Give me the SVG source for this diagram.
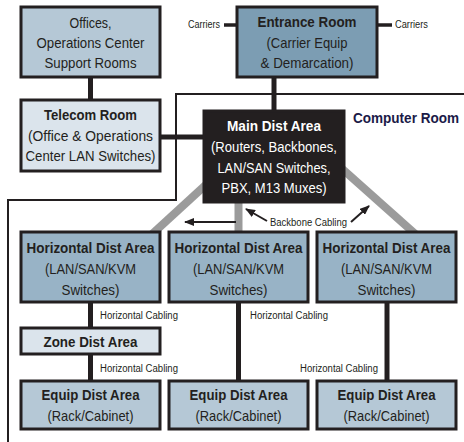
<svg xmlns="http://www.w3.org/2000/svg" width="464" height="442" viewBox="0 0 464 442">
<defs>
<marker id="ah" markerUnits="userSpaceOnUse" markerWidth="10" markerHeight="8" refX="9" refY="4" orient="auto">
<path d="M0,0 L10,4 L0,8 Z" fill="#231f20"/>
</marker>
</defs>
<style>
.box{stroke:#231f20;stroke-width:3}
.lt{fill:#dbe4ec}
.md{fill:#b5c8d6}
.hd{fill:#98b3c6}
.dk{fill:#7c9db3}
.bk{fill:#231f20}
text{font-family:"Liberation Sans",Arial,sans-serif;fill:#231f20}
.t{font-size:15px;text-anchor:middle}
.b{font-weight:bold}
.w{fill:#ffffff}
.s{font-size:10px}
.cr{font-size:14px;font-weight:bold;fill:#1b1a47}
.wire{stroke:#231f20;stroke-width:5;fill:none}
.thin{stroke:#231f20;stroke-width:3.5;fill:none}
.bound{stroke:#231f20;stroke-width:2;fill:none}
.bb{stroke:#9b9b9b;stroke-width:8;fill:none}
.arr{stroke:#231f20;stroke-width:2;fill:none;marker-end:url(#ah)}
</style>

<g id="connectors">
<path class="bound" d="M464,94 H176 V200 H8 V442"/>
<path class="bb" d="M222,170 L150,236"/>
<path class="bb" d="M238.5,195 V240"/>
<path class="bb" d="M330,158 L422,240"/>
<path class="wire" d="M90.5,77 V100"/>
<path class="wire" d="M160,137 H204"/>
<path class="wire" d="M274,77 V111"/>
<path class="thin" d="M224,25 H237"/>
<path class="thin" d="M377,25 H392"/>
<path class="wire" d="M90.5,302 V328"/>
<path class="wire" d="M90.5,354 V381"/>
<path class="wire" d="M238.5,302 V381"/>
<path class="wire" d="M387,302 V381"/>
<path class="arr" d="M236,222 H185"/>
<path class="arr" d="M267,221 L246,209"/>
<path class="arr" d="M351,222 L369,206"/>
<text class="s" x="188" y="28" textLength="32" lengthAdjust="spacingAndGlyphs">Carriers</text>
<text class="s" x="395" y="28" textLength="33" lengthAdjust="spacingAndGlyphs">Carriers</text>
<text class="s" x="270" y="226" textLength="77" lengthAdjust="spacingAndGlyphs">Backbone Cabling</text>
<text class="s" x="100" y="319" textLength="78" lengthAdjust="spacingAndGlyphs">Horizontal Cabling</text>
<text class="s" x="100" y="372" textLength="78" lengthAdjust="spacingAndGlyphs">Horizontal Cabling</text>
<text class="s" x="250" y="319" textLength="78" lengthAdjust="spacingAndGlyphs">Horizontal Cabling</text>
<text class="s" x="300" y="372" textLength="78" lengthAdjust="spacingAndGlyphs">Horizontal Cabling</text>
<text class="cr" x="353" y="123" textLength="106" lengthAdjust="spacingAndGlyphs">Computer Room</text>
</g>

<g id="offices">
<rect class="box md" x="21" y="7" width="139" height="70"/>
<text class="t" x="90.5" y="28" textLength="42" lengthAdjust="spacingAndGlyphs">Offices,</text>
<text class="t" x="90.5" y="48" textLength="108" lengthAdjust="spacingAndGlyphs">Operations Center</text>
<text class="t" x="90.5" y="68" textLength="92" lengthAdjust="spacingAndGlyphs">Support Rooms</text>
</g>

<g id="telecom">
<rect class="box lt" x="21" y="100" width="139" height="71"/>
<text class="t b" x="90.5" y="120" textLength="93" lengthAdjust="spacingAndGlyphs">Telecom Room</text>
<text class="t" x="90.5" y="141" textLength="125" lengthAdjust="spacingAndGlyphs">(Office &amp; Operations</text>
<text class="t" x="90.5" y="161" textLength="130" lengthAdjust="spacingAndGlyphs">Center LAN Switches)</text>
</g>

<g id="entrance">
<rect class="box dk" x="237" y="7" width="140" height="70"/>
<text class="t b" x="307" y="27" textLength="99" lengthAdjust="spacingAndGlyphs">Entrance Room</text>
<text class="t" x="307" y="48" textLength="81" lengthAdjust="spacingAndGlyphs">(Carrier Equip</text>
<text class="t" x="307" y="68" textLength="93" lengthAdjust="spacingAndGlyphs">&amp; Demarcation)</text>
</g>

<g id="main">
<rect class="box bk" x="204" y="111" width="140" height="91"/>
<text class="t b w" x="274" y="131" textLength="94" lengthAdjust="spacingAndGlyphs">Main Dist Area</text>
<text class="t w" x="274" y="152" textLength="126" lengthAdjust="spacingAndGlyphs">(Routers, Backbones,</text>
<text class="t w" x="274" y="173" textLength="113" lengthAdjust="spacingAndGlyphs">LAN/SAN Switches,</text>
<text class="t w" x="274" y="193" textLength="105" lengthAdjust="spacingAndGlyphs">PBX, M13 Muxes)</text>
</g>

<g id="hda1">
<rect class="box hd" x="21" y="232" width="139" height="70"/>
<text class="t b" x="90.5" y="253" textLength="128" lengthAdjust="spacingAndGlyphs">Horizontal Dist Area</text>
<text class="t" x="90.5" y="274" textLength="91" lengthAdjust="spacingAndGlyphs">(LAN/SAN/KVM</text>
<text class="t" x="90.5" y="295" textLength="58" lengthAdjust="spacingAndGlyphs">Switches)</text>
</g>

<g id="hda2">
<rect class="box hd" x="169" y="232" width="139" height="70"/>
<text class="t b" x="238.5" y="253" textLength="128" lengthAdjust="spacingAndGlyphs">Horizontal Dist Area</text>
<text class="t" x="238.5" y="274" textLength="91" lengthAdjust="spacingAndGlyphs">(LAN/SAN/KVM</text>
<text class="t" x="238.5" y="295" textLength="58" lengthAdjust="spacingAndGlyphs">Switches)</text>
</g>

<g id="hda3">
<rect class="box hd" x="317" y="232" width="139" height="70"/>
<text class="t b" x="386.5" y="253" textLength="128" lengthAdjust="spacingAndGlyphs">Horizontal Dist Area</text>
<text class="t" x="386.5" y="274" textLength="91" lengthAdjust="spacingAndGlyphs">(LAN/SAN/KVM</text>
<text class="t" x="386.5" y="295" textLength="58" lengthAdjust="spacingAndGlyphs">Switches)</text>
</g>

<g id="zone">
<rect class="box lt" x="21" y="328" width="139" height="26"/>
<text class="t b" x="90.5" y="347" textLength="94" lengthAdjust="spacingAndGlyphs">Zone Dist Area</text>
</g>

<g id="eda1">
<rect class="box md" x="21" y="381" width="139" height="48"/>
<text class="t b" x="90.5" y="400" textLength="98" lengthAdjust="spacingAndGlyphs">Equip Dist Area</text>
<text class="t" x="90.5" y="421" textLength="86" lengthAdjust="spacingAndGlyphs">(Rack/Cabinet)</text>
</g>

<g id="eda2">
<rect class="box md" x="169" y="381" width="139" height="48"/>
<text class="t b" x="238.5" y="400" textLength="98" lengthAdjust="spacingAndGlyphs">Equip Dist Area</text>
<text class="t" x="238.5" y="421" textLength="86" lengthAdjust="spacingAndGlyphs">(Rack/Cabinet)</text>
</g>

<g id="eda3">
<rect class="box md" x="317" y="381" width="139" height="48"/>
<text class="t b" x="386.5" y="400" textLength="98" lengthAdjust="spacingAndGlyphs">Equip Dist Area</text>
<text class="t" x="386.5" y="421" textLength="86" lengthAdjust="spacingAndGlyphs">(Rack/Cabinet)</text>
</g>
</svg>
